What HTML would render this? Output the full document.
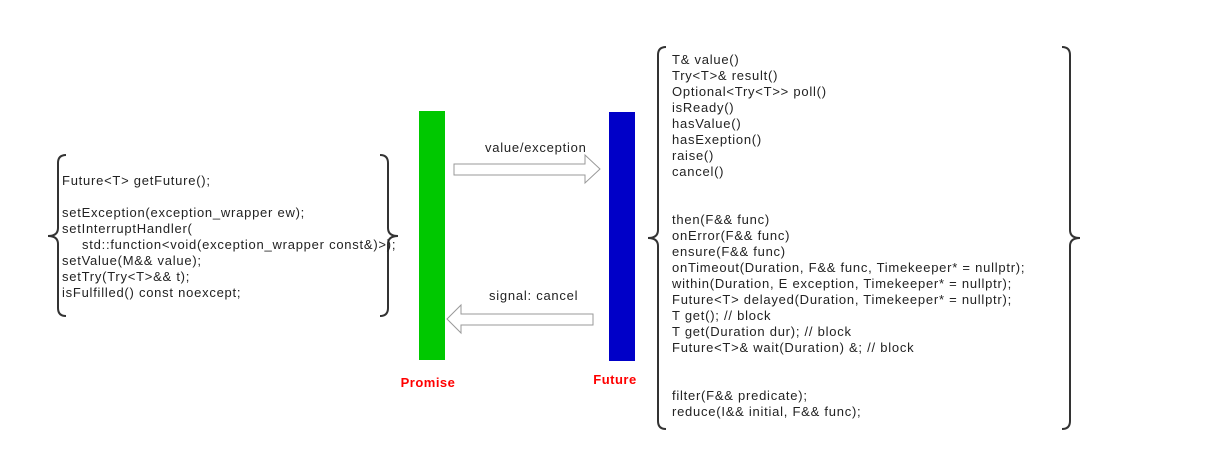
<!DOCTYPE html>
<html><head><meta charset="utf-8"><style>
html,body{margin:0;padding:0;background:#fff;}
svg text{font-family:"Liberation Sans","DejaVu Sans",sans-serif;font-size:13px;letter-spacing:0.75px;fill:#222;}
</style></head><body>
<svg width="1206" height="461" viewBox="0 0 1206 461" xmlns="http://www.w3.org/2000/svg">
<g fill="none" stroke="#333" stroke-width="2">
<path d="M66,155 Q58,155 58,163 L58,228 Q58,236 48,236 Q58,236 58,244 L58,308 Q58,316 66,316"/>
<path d="M380,155 Q388,155 388,163 L388,228 Q388,236 398,236 Q388,236 388,244 L388,308 Q388,316 380,316"/>
<path d="M666,47 Q658,47 658,55 L658,230 Q658,238 648,238 Q658,238 658,246 L658,421 Q658,429 666,429"/>
<path d="M1062,47 Q1070,47 1070,55 L1070,230 Q1070,238 1080,238 Q1070,238 1070,246 L1070,421 Q1070,429 1062,429"/>
</g>
<rect x="419" y="111" width="26" height="249" fill="#00c800"/>
<rect x="609" y="112" width="26" height="249" fill="#0000c8"/>
<path d="M454,164 L585,164 L585,155 L600,169 L585,183 L585,175 L454,175 Z" fill="#fff" stroke="#999" stroke-width="1"/>
<path d="M593,314 L461,314 L461,305 L447,319 L461,333 L461,325 L593,325 Z" fill="#fff" stroke="#999" stroke-width="1"/>
<text x="485" y="152">value/exception</text>
<text x="489" y="300">signal: cancel</text>
<text x="428" y="387" text-anchor="middle" style="fill:#f00;font-weight:bold;font-size:13px;letter-spacing:0.5px">Promise</text>
<text x="615" y="384" text-anchor="middle" style="fill:#f00;font-weight:bold;font-size:13px;letter-spacing:0.5px">Future</text>
<g>
<text x="62" y="185">Future&lt;T&gt; getFuture();</text>
<text x="62" y="217">setException(exception_wrapper ew);</text>
<text x="62" y="233">setInterruptHandler(</text>
<text x="82" y="249">std::function&lt;void(exception_wrapper const&amp;)&gt;);</text>
<text x="62" y="265">setValue(M&amp;&amp; value);</text>
<text x="62" y="281">setTry(Try&lt;T&gt;&amp;&amp; t);</text>
<text x="62" y="297">isFulfilled() const noexcept;</text>
</g>
<g>
<text x="672" y="64">T&amp; value()</text>
<text x="672" y="80">Try&lt;T&gt;&amp; result()</text>
<text x="672" y="96">Optional&lt;Try&lt;T&gt;&gt; poll()</text>
<text x="672" y="112">isReady()</text>
<text x="672" y="128">hasValue()</text>
<text x="672" y="144">hasExeption()</text>
<text x="672" y="160">raise()</text>
<text x="672" y="176">cancel()</text>
<text x="672" y="224">then(F&amp;&amp; func)</text>
<text x="672" y="240">onError(F&amp;&amp; func)</text>
<text x="672" y="256">ensure(F&amp;&amp; func)</text>
<text x="672" y="272">onTimeout(Duration, F&amp;&amp; func, Timekeeper* = nullptr);</text>
<text x="672" y="288">within(Duration, E exception, Timekeeper* = nullptr);</text>
<text x="672" y="304">Future&lt;T&gt; delayed(Duration, Timekeeper* = nullptr);</text>
<text x="672" y="320">T get(); // block</text>
<text x="672" y="336">T get(Duration dur); // block</text>
<text x="672" y="352">Future&lt;T&gt;&amp; wait(Duration) &amp;; // block</text>
<text x="672" y="400">filter(F&amp;&amp; predicate);</text>
<text x="672" y="416">reduce(I&amp;&amp; initial, F&amp;&amp; func);</text>
</g>
</svg>
</body></html>
